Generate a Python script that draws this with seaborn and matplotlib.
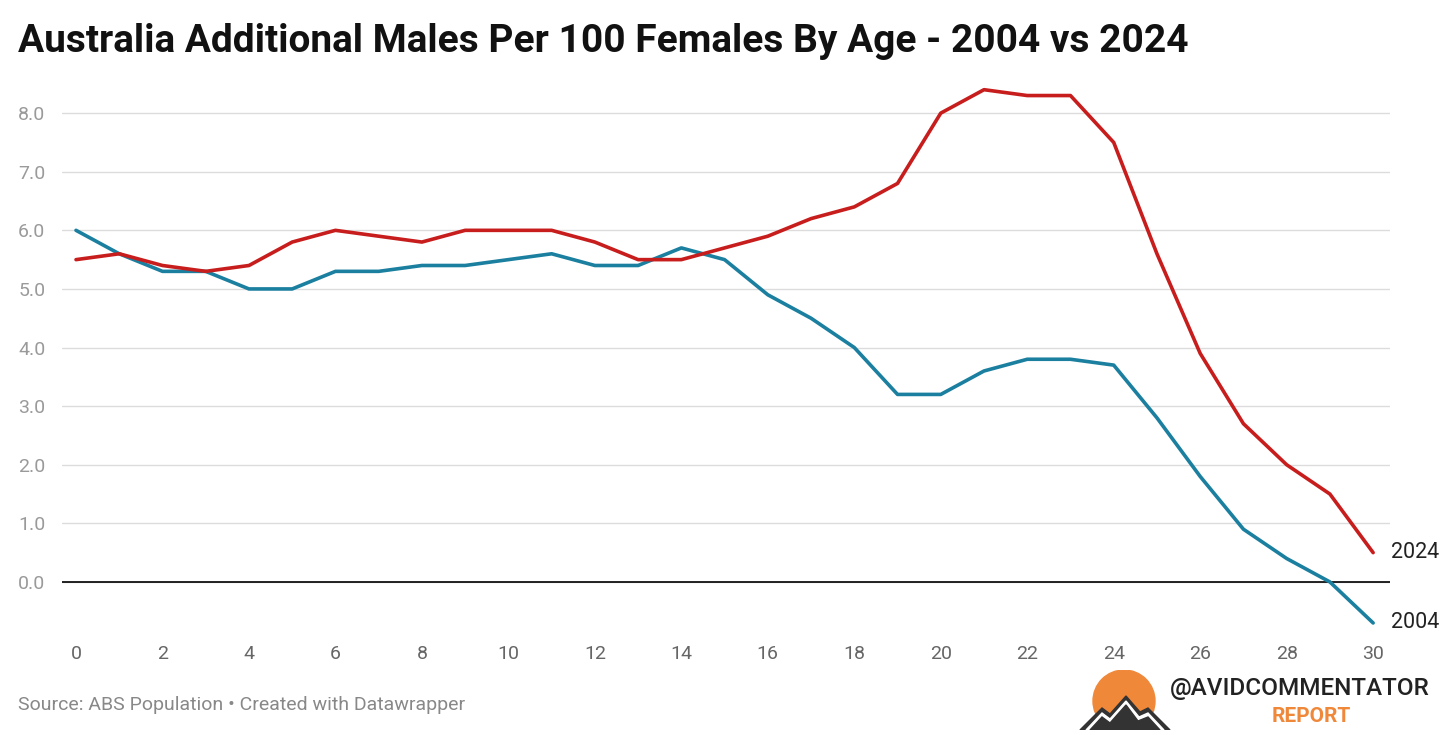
import matplotlib
matplotlib.use("Agg")
import matplotlib.pyplot as plt
import seaborn as sns
import pandas as pd
from matplotlib.patches import Circle, Polygon

# DATA
ages = list(range(0, 31))
males_2004 = [6.0, 5.6, 5.3, 5.3, 5.0, 5.0, 5.3, 5.3, 5.4, 5.4, 5.5, 5.6, 5.4, 5.4, 5.7, 5.5,
              4.9, 4.5, 4.0, 3.2, 3.2, 3.6, 3.8, 3.8, 3.7, 2.8, 1.8, 0.9, 0.4, 0.0, -0.7]
males_2024 = [5.5, 5.6, 5.4, 5.3, 5.4, 5.8, 6.0, 5.9, 5.8, 6.0, 6.0, 6.0, 5.8, 5.5, 5.5, 5.7,
              5.9, 6.2, 6.4, 6.8, 8.0, 8.4, 8.3, 8.3, 7.5, 5.6, 3.9, 2.7, 2.0, 1.5, 0.5]
years = ["2004", "2024"]
colors = {"2004": "#1b7fa0", "2024": "#c71e1d"}
y_ticks = [0, 1, 2, 3, 4, 5, 6, 7, 8]
x_ticks = list(range(0, 31, 2))

df = pd.DataFrame({
    "age": ages * 2,
    "value": males_2004 + males_2024,
    "year": ["2004"] * len(ages) + ["2024"] * len(ages),
})

sns.set_style("white")
plt.rcParams["font.family"] = ["Roboto", "DejaVu Sans"]

W, H = 1456, 735
fig = plt.figure(figsize=(W / 100, H / 100), dpi=100)
ax = fig.add_axes([62 / W, 1 - 630 / H, (1390 - 62) / W, (630 - 85) / H])

sns.lineplot(data=df, x="age", y="value", hue="year", palette=colors,
             linewidth=2.6, ax=ax, legend=False)

ax.set_xlim(-0.324, 30.39)
ax.set_ylim(-0.82, 8.48)
ax.set_yticks(y_ticks)
ax.set_yticklabels([f"{v:.1f}" for v in y_ticks])
ax.set_xticks(x_ticks)
ax.grid(axis="y", color="#dcdcdc", linewidth=1)
ax.axhline(0, color="black", linewidth=1.2, zorder=1)
for s in ax.spines.values():
    s.set_visible(False)
ax.tick_params(axis="y", length=0, pad=12, labelsize=14, labelcolor="#9a9a9a")
ax.tick_params(axis="x", length=0, pad=11, labelsize=14, labelcolor="#666666")
ax.set_xlabel("")
ax.set_ylabel("")

# line end labels
ax.text(30.42, males_2024[-1], "2024", fontsize=15.5, va="center", ha="left", color="#222222", clip_on=False)
ax.text(30.42, males_2004[-1], "2004", fontsize=15.5, va="center", ha="left", color="#222222", clip_on=False)

fig.text(18 / W, 1 - 42 / H, "Australia Additional Males Per 100 Females By Age - 2004 vs 2024",
         fontsize=28, fontweight="bold", va="center", ha="left", color="#111111")
fig.text(18 / W, 1 - 705 / H, "Source: ABS Population \u2022 Created with Datawrapper",
         fontsize=14, va="center", ha="left", color="#888888")

# logo
lax = fig.add_axes([1078 / W, 5 / H, 95 / W, 60 / H])
lax.set_xlim(0, 95)
lax.set_ylim(0, 60)
lax.axis("off")
lax.add_patch(Circle((46, 29), 31, color="#f0883a"))
lax.add_patch(Polygon([(2, 0), (24, 22), (32, 16), (48, 34), (62, 18), (70, 22), (92, 0)],
                      closed=True, color="#333333"))
lax.add_patch(Polygon([(8, 0), (24, 17), (32, 11), (48, 29), (61, 13), (70, 17), (86, 0)],
                      closed=True, color="#ffffff"))
lax.add_patch(Polygon([(12, 0), (24, 13), (32, 7), (48, 25), (60, 9), (70, 13), (82, 0)],
                      closed=True, color="#333333"))
fig.text(1170 / W, 1 - 688 / H, "@AVIDCOMMENTATOR", fontsize=17.5, fontweight="medium",
         va="center", ha="left", color="#222222")
fig.text(1311 / W, 1 - 717 / H, "REPORT", fontsize=15, fontweight="bold",
         va="center", ha="center", color="#f0883a")

fig.savefig("out.png", dpi=100)
